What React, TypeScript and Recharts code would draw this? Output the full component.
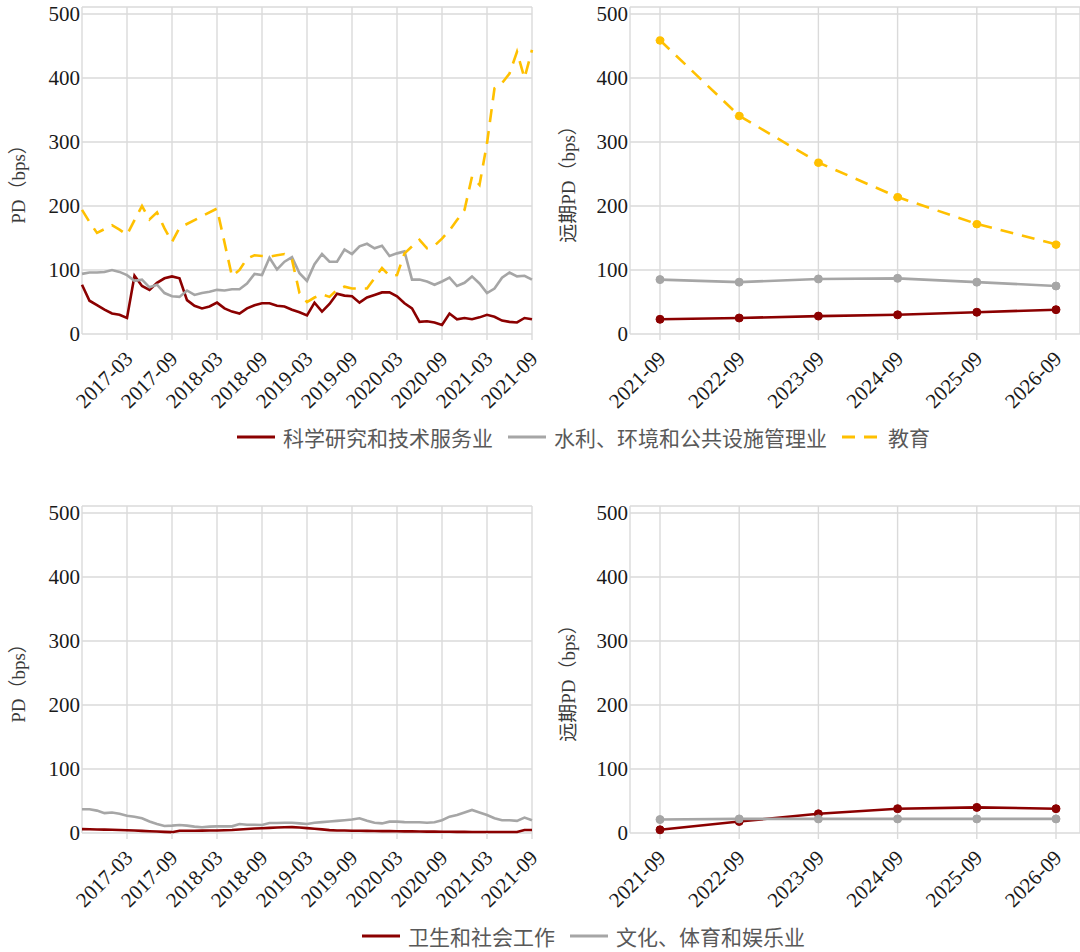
import { LineChart, Line, XAxis, YAxis, CartesianGrid } from "recharts";

const months = [
  "2016-09", "2016-10", "2016-11", "2016-12", "2017-01", "2017-02", "2017-03", "2017-04", "2017-05", "2017-06",
  "2017-07", "2017-08", "2017-09", "2017-10", "2017-11", "2017-12", "2018-01", "2018-02", "2018-03", "2018-04",
  "2018-05", "2018-06", "2018-07", "2018-08", "2018-09", "2018-10", "2018-11", "2018-12", "2019-01", "2019-02",
  "2019-03", "2019-04", "2019-05", "2019-06", "2019-07", "2019-08", "2019-09", "2019-10", "2019-11", "2019-12",
  "2020-01", "2020-02", "2020-03", "2020-04", "2020-05", "2020-06", "2020-07", "2020-08", "2020-09", "2020-10",
  "2020-11", "2020-12", "2021-01", "2021-02", "2021-03", "2021-04", "2021-05", "2021-06", "2021-07", "2021-08",
  "2021-09",
];
const monthTicks = [
  "2017-03", "2017-09", "2018-03", "2018-09", "2019-03",
  "2019-09", "2020-03", "2020-09", "2021-03", "2021-09",
];
const years = ["2021-09", "2022-09", "2023-09", "2024-09", "2025-09", "2026-09"];

// 科学研究和技术服务业
const researchPD = [
  77, 52, 45, 38, 32, 30, 25, 91, 75, 69,
  80, 87, 90, 87, 53, 44, 40, 43, 49, 40,
  35, 32, 40, 45, 48, 48, 44, 43, 38, 34,
  29, 49, 35, 47, 63, 60, 59, 49, 57, 61,
  65, 65, 59, 48, 40, 19, 20, 18, 14, 32,
  23, 25, 23, 26, 30, 27, 21, 19, 18, 25, 23,
];
// 水利、环境和公共设施管理业
const waterPD = [
  94, 96, 96, 97, 100, 97, 92, 83, 85, 73,
  77, 64, 59, 58, 68, 61, 64, 66, 69, 68,
  70, 70, 79, 94, 92, 119, 101, 113, 120, 95,
  83, 109, 125, 113, 113, 132, 125, 137, 141, 134,
  138, 122, 126, 129, 85, 85, 82, 77, 82, 88,
  75, 80, 90, 79, 64, 71, 88, 96, 90, 91, 85,
];
// 教育
const eduPD = [
  194, 175, 158, 164, 170, 163, 155, 178, 200, 179,
  190, 165, 144, 166, null, null, null, null, 196, null,
  90, 100, 118, 123, 122, 121, 123, 125, 116, 64,
  50, 57, 62, 58, 69, 74, 71, 71, 71, 87,
  103, 91, 92, 126, 137, 147, 134, 138, 149, 162,
  178, 194, 246, 233, 298, 384, 392, 407, 441, 400, 444,
];
// 卫生和社会工作
const healthPD = [
  6, 5.8, 5.5, 5.2, 5, 4.6, 4.2, 3.8, 3.3, 2.8,
  2.3, 1.8, 1.3, 3.5, 3.6, 3.6, 3.7, 3.8, 4, 4.4,
  4.8, 5.5, 6.2, 7, 7.5, 8, 8.6, 9, 9.2, 8.5,
  7.6, 6.6, 5.6, 4.5, 4, 3.8, 3.6, 3.5, 3.3, 3.2,
  3, 2.9, 2.8, 2.6, 2.5, 2.4, 2.2, 2.1, 2, 1.9,
  1.8, 1.7, 1.6, 1.6, 1.6, 1.6, 1.6, 1.6, 1.6, 4.8, 4.8,
];
// 文化、体育和娱乐业
const culturePD = [
  37, 37, 35, 31, 32, 30, 27, 25.5, 23, 18,
  14, 11, 11.5, 12.5, 11.5, 10, 9, 10, 10.4, 10.4,
  10.4, 14, 13, 13, 12.5, 15.6, 15.6, 16, 16, 15,
  14, 16, 17, 18, 19, 20, 21, 23, 19, 16,
  15, 17.7, 17.7, 17, 16.7, 16.7, 16, 16.7, 20, 25.5,
  28, 32, 36, 32, 28, 23, 20, 20, 19, 24, 20,
];

// forward PD
const researchFwd = [23, 25, 28, 30, 34, 38];
const waterFwd = [85, 81, 86, 87, 81, 75];
const eduFwd = [459, 341, 268, 214, 172, 140];
const healthFwd = [5, 18, 30, 38, 40, 38];
const cultureFwd = [21, 22, 22, 22, 22, 22];

const yTicks = [0, 100, 200, 300, 400, 500];

const RED = "#8b0000";
const GREY = "#a6a6a6";
const GOLD = "#ffc000";
const GRID = "#dadada";
const SERIF = "'Liberation Serif'";
const CJK = "'Noto Sans CJK SC'";

// force serif on axis text, even if some stylesheet sets the axis font
const css = `
#root svg text.serif-txt, #root .recharts-wrapper svg g text.serif-txt {
  font-family: 'Liberation Serif', 'Noto Sans CJK SC' !important;
}
`;

const histTop = months.map((m, i) => ({ m, a: researchPD[i], b: waterPD[i], c: eduPD[i] }));
const fwdTop = years.map((m, i) => ({ m, a: researchFwd[i], b: waterFwd[i], c: eduFwd[i] }));
const histBottom = months.map((m, i) => ({ m, a: healthPD[i], b: culturePD[i] }));
const fwdBottom = years.map((m, i) => ({ m, a: healthFwd[i], b: cultureFwd[i] }));

const XTick = ({ x, y, payload }: any) => (
  <g transform={`translate(${x},${y})`}>
    <text
      className="serif-txt"
      x={7}
      y={18}
      textAnchor="end"
      transform="rotate(-45 7 18)"
      fontFamily={SERIF}
      fontSize={21}
      fill="#1a1a1a"
    >
      {payload.value}
    </text>
  </g>
);

const YTick = ({ x, y, payload }: any) => (
  <text
    className="serif-txt"
    x={x}
    y={y}
    dy={7}
    textAnchor="end"
    fontFamily={SERIF}
    fontSize={21}
    fill="#1a1a1a"
  >
    {payload.value}
  </text>
);

const AxisTitle = ({ viewBox, text, dx }: any) => {
  if (!viewBox) return null;
  const cx = viewBox.x + dx;
  const cy = viewBox.y + viewBox.height / 2 + 9;
  return (
    <text
      className="serif-txt"
      x={cx}
      y={cy}
      transform={`rotate(-90 ${cx} ${cy})`}
      textAnchor="middle"
      dominantBaseline="central"
      fontFamily={SERIF + ", " + CJK}
      fontSize={19}
      fill="#3a3a3a"
    >
      {text}
    </text>
  );
};

type S = { key: string; color: string; dash?: string };

function Panel({ data, series, ticks, title, yWidth, right, pad, dots, left, top, width }: any) {
  return (
    <div style={{ position: "absolute", left, top }}>
      <LineChart width={width} height={430} data={data} margin={{ top: 7, right, left: 0, bottom: 0 }}>
        <CartesianGrid stroke={GRID} strokeWidth={1.4} />
        <XAxis
          dataKey="m"
          ticks={ticks}
          interval={0}
          height={96}
          padding={pad}
          axisLine={false}
          tickLine={{ stroke: GRID, strokeWidth: 1.4 }}
          tickSize={6}
          tickMargin={2}
          tick={<XTick />}
        />
        <YAxis
          domain={[0, 511]}
          ticks={yTicks}
          width={yWidth}
          axisLine={false}
          tickLine={false}
          tickSize={0}
          tickMargin={2}
          tick={<YTick />}
          label={<AxisTitle text={title} dx={yWidth === 82 ? 18 : 23} />}
        />
        {series.map((s: S) => (
          <Line
            key={s.key}
            dataKey={s.key}
            stroke={s.color}
            strokeWidth={2.6}
            strokeDasharray={s.dash}
            dot={dots ? { r: 4, fill: s.color, stroke: s.color, strokeWidth: 1 } : false}
            connectNulls
            type="linear"
            isAnimationActive={false}
          />
        ))}
      </LineChart>
    </div>
  );
}

function LegendRow({ items, left, top }: any) {
  return (
    <div
      style={{
        position: "absolute",
        left,
        top,
        display: "flex",
        alignItems: "center",
        fontFamily: CJK,
        fontSize: 21,
        color: "#595959",
        whiteSpace: "nowrap",
      }}
    >
      {items.map((it: any) => (
        <div key={it.name} style={{ display: "flex", alignItems: "center", marginRight: 15 }}>
          <svg width={38} height={10} style={{ marginRight: 8 }}>
            <line x1={0} y1={5} x2={38} y2={5} stroke={it.color} strokeWidth={3} strokeDasharray={it.dash} />
          </svg>
          <span>{it.name}</span>
        </div>
      ))}
    </div>
  );
}

const topSeries: S[] = [
  { key: "a", color: RED },
  { key: "b", color: GREY },
  { key: "c", color: GOLD, dash: "13 9" },
];
const bottomSeries: S[] = [
  { key: "a", color: RED },
  { key: "b", color: GREY },
];

export default function App() {
  return (
    <div style={{ position: "absolute", left: 0, top: 0, width: 1080, height: 952, background: "#fff" }}>
      <style>{css}</style>
      <Panel data={histTop} series={topSeries} ticks={monthTicks} title="PD（bps）" yWidth={82} right={13}
        pad={{ left: 0, right: 0 }} dots={false} left={0} top={0} width={545} />
      <Panel data={fwdTop} series={topSeries} ticks={years} title="远期PD（bps）" yWidth={85} right={0}
        pad={{ left: 30, right: 24 }} dots left={545} top={0} width={535} />
      <LegendRow
        left={237}
        top={422}
        items={[
          { name: "科学研究和技术服务业", color: RED },
          { name: "水利、环境和公共设施管理业", color: GREY },
          { name: "教育", color: GOLD, dash: "13 9" },
        ]}
      />
      <Panel data={histBottom} series={bottomSeries} ticks={monthTicks} title="PD（bps）" yWidth={82} right={13}
        pad={{ left: 0, right: 0 }} dots={false} left={0} top={499} width={545} />
      <Panel data={fwdBottom} series={bottomSeries} ticks={years} title="远期PD（bps）" yWidth={85} right={0}
        pad={{ left: 30, right: 24 }} dots left={545} top={499} width={535} />
      <LegendRow
        left={362}
        top={921}
        items={[
          { name: "卫生和社会工作", color: RED },
          { name: "文化、体育和娱乐业", color: GREY },
        ]}
      />
    </div>
  );
}
